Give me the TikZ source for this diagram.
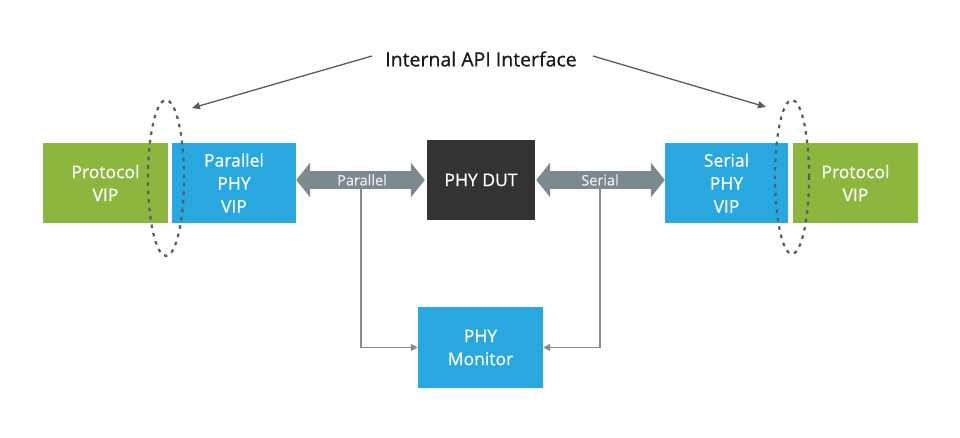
\documentclass[tikz,border=0pt]{standalone}
\usepackage{fontspec}
\setmainfont{Open Sans}
\newfontfamily\medfont[FakeBold=0.6]{Open Sans}
\usetikzlibrary{arrows.meta,shapes.geometric}
\definecolor{vgreen}{HTML}{8DB63E}
\definecolor{vblue}{HTML}{29A8E0}
\definecolor{vdark}{HTML}{333333}
\definecolor{varrow}{HTML}{7B8A91}
\definecolor{vline}{HTML}{8A8A8A}
\definecolor{vdash}{HTML}{555A66}
\begin{document}
\begin{tikzpicture}[x=1pt,y=-1pt,
  box/.style={rectangle,inner sep=0pt,text=white,align=center,
    font=\medfont\fontsize{17.5}{23}\selectfont},
  bigarrow/.style={draw=varrow,line width=18pt,
    {Triangle[width=34pt,length=14pt]}-{Triangle[width=34pt,length=14pt]}},
  lab/.style={text=white!92!black,font=\medfont\fontsize{14.5}{16}\selectfont,inner sep=1pt},
  conn/.style={draw=vline,line width=1.4pt,-{Triangle[length=7pt,width=7pt]}},
  apiarrow/.style={draw=vdark!80,line width=1.3pt,-{Triangle[length=8pt,width=7pt]}},
  ell/.style={ellipse,draw=vdash,line width=2.2pt,dash pattern=on 3.5pt off 5pt,inner sep=0pt},
  title/.style={font=\medfont\fontsize{19.5}{22}\selectfont,text=black!90,inner sep=0pt}
]
\useasboundingbox[fill=white] (0,0) rectangle (960,438);

\node[box,fill=vgreen,minimum width=125pt,minimum height=80pt] (pl) at (105.5,183) {Protocol\\VIP};
\node[box,fill=vblue,minimum width=124pt,minimum height=80pt] (ppv) at (234,183) {Parallel\\PHY\\VIP};
\node[box,fill=vdark,minimum width=108pt,minimum height=80pt] (dut) at (481,180) {PHY DUT};
\node[box,fill=vblue,minimum width=123pt,minimum height=80pt] (spv) at (726.5,183) {Serial\\PHY\\VIP};
\node[box,fill=vgreen,minimum width=125pt,minimum height=80pt] (pr) at (855.5,183) {Protocol\\VIP};
\node[box,fill=vblue,minimum width=125pt,minimum height=81pt] (mon) at (480.5,347.5) {PHY\\Monitor};

\draw[bigarrow] (ppv.east |- dut.west) -- ([xshift=-2pt]dut.west);
\draw[bigarrow] ([xshift=1pt]dut.east) -- (spv.west |- dut.east);
\node[lab] (plab) at (362,180) {Parallel};
\node[lab] (slab) at (600,180) {Serial};

\coordinate (pa) at (361,189);
\coordinate (sa) at (600,189);
\draw[conn] (pa) |- (mon.west);
\draw[conn] (sa) |- (mon.east);

\node[ell,minimum width=36pt,minimum height=156pt] (e1) at (166,178) {};
\node[ell,minimum width=34pt,minimum height=154pt] (e2) at (792,177) {};

\node[title] (api) at (481,59) {Internal API Interface};
\coordinate (a1) at (192,108);
\coordinate (a2) at (766,107);
\draw[apiarrow] ([xshift=-13pt,yshift=3pt]api.west) -- (a1);
\draw[apiarrow] ([xshift=16pt,yshift=3pt]api.east) -- (a2);
\end{tikzpicture}
\end{document}
